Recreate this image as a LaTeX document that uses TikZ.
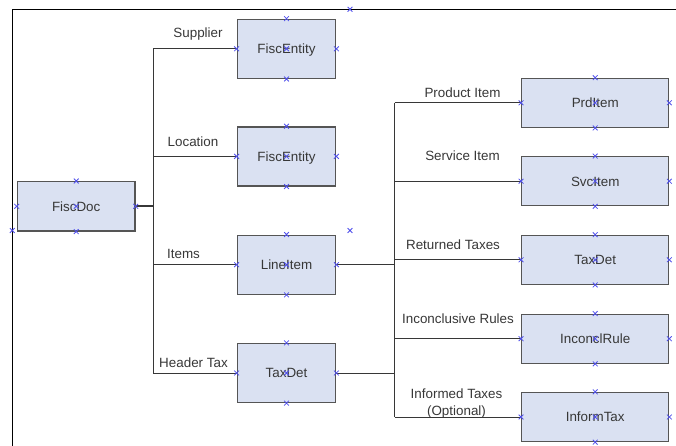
\documentclass[tikz,border=0pt]{standalone}
\usepackage{fontspec}
\setmainfont{Liberation Sans}
\usetikzlibrary{shapes.misc}
\definecolor{boxfill}{RGB}{218,225,242}
\definecolor{boxline}{RGB}{85,85,85}
\definecolor{txt}{RGB}{55,55,55}
\definecolor{markc}{RGB}{80,80,235}
\definecolor{wirec}{RGB}{55,55,55}
\begin{document}
\begin{tikzpicture}[x=1pt,y=-1pt,
  box/.style={draw=boxline, fill=boxfill, line width=1.3pt, inner sep=0pt, text=txt,
    font=\fontsize{13.4}{16}\selectfont, text height=9.6pt, text depth=0pt},
  midbox/.style={box, minimum width=98.5pt, minimum height=59pt},
  rbox/.style={box, minimum width=147pt, minimum height=49pt},
  lbl/.style={text=txt, font=\fontsize{13.4}{17}\selectfont, inner sep=0pt,
    text height=9.6pt, text depth=0pt},
  lbl2/.style={text=txt, font=\fontsize{13.4}{17}\selectfont, inner sep=0pt, align=center},
  wire/.style={draw=wirec, line width=1pt},
  mk/.style={cross out, draw=markc, line width=0.8pt, minimum size=4pt, inner sep=0pt}
]
\useasboundingbox (0,0) rectangle (676,446);
% frame
\coordinate (fbl) at (12.3,446);
\coordinate (ftl) at (12.3,9.3);
\coordinate (ftr) at (676,9.3);
\draw[line width=1.2pt] (fbl) -- (ftl) -- (ftr);

% boxes
\node[box, minimum width=117.7pt, minimum height=49.3pt] (doc) at (76.2,206.3) {FiscDoc};
\node[midbox] (fe1) at (286.5,48.8) {FiscEntity};
\node[midbox] (fe2) at (286.5,156.4) {FiscEntity};
\node[midbox] (li) at (286.5,264.7) {LineItem};
\node[midbox] (td1) at (286.5,373) {TaxDet};
\node[rbox] (prd) at (595.2,102.8) {PrdItem};
\node[rbox] (svc) at (595.2,181.2) {SvcItem};
\node[rbox] (td2) at (595.2,259.8) {TaxDet};
\node[rbox] (inc) at (595.2,338.7) {InconclRule};
\node[rbox] (inf) at (595.2,417) {InformTax};

% buses
\coordinate (L) at (153.3,0);
\coordinate (R) at (394.5,0);
\draw[wire, line width=2pt] (doc.east) -- (doc.east -| L);
\draw[wire] (fe1.west -| L) -- (td1.west -| L);
\draw[wire] (fe1.west -| L) -- (fe1.west);
\draw[wire] (fe2.west -| L) -- (fe2.west);
\draw[wire] (li.west -| L) -- (li.west);
\draw[wire] (td1.west -| L) -- (td1.west);

\draw[wire] (li.east) -- (li.east -| R);
\draw[wire] (td1.east) -- (td1.east -| R);
\draw[wire] (prd.west -| R) -- (inf.west -| R);
\draw[wire] (prd.west -| R) -- (prd.west);
\draw[wire] (svc.west -| R) -- (svc.west);
\draw[wire] (td2.west -| R) -- (td2.west);
\draw[wire] (inc.west -| R) -- (inc.west);
\draw[wire] (inf.west -| R) -- (inf.west);

% labels
\node[lbl] (lsup) at (198,33) {Supplier};
\node[lbl] (lloc) at (193,142) {Location};
\node[lbl] (litm) at (183.5,254) {Items};
\node[lbl] (lhdr) at (193.5,363) {Header Tax};
\node[lbl] (lprd) at (462.5,92.3) {Product Item};
\node[lbl] (lsvc) at (462.5,156) {Service Item};
\node[lbl] (lret) at (453,245) {Returned Taxes};
\node[lbl] (linc) at (458,318.3) {Inconclusive Rules};
\node[lbl2, anchor=north] (linf) at (456.5,388.3) {Informed Taxes\\(Optional)};

% connection point markers
\foreach \b in {doc,fe1,fe2,li,td1,prd,svc,td2,inc,inf}{
  \foreach \a in {north,south,east,west,center}{
    \node[mk] (m-\b-\a) at (\b.\a) {};
  }
}
\node[mk] (s1) at (350,9.3) {};
\node[mk] (s2) at (350,230.5) {};
\node[mk] (s3) at (12.3,230.5) {};
\end{tikzpicture}
\end{document}
